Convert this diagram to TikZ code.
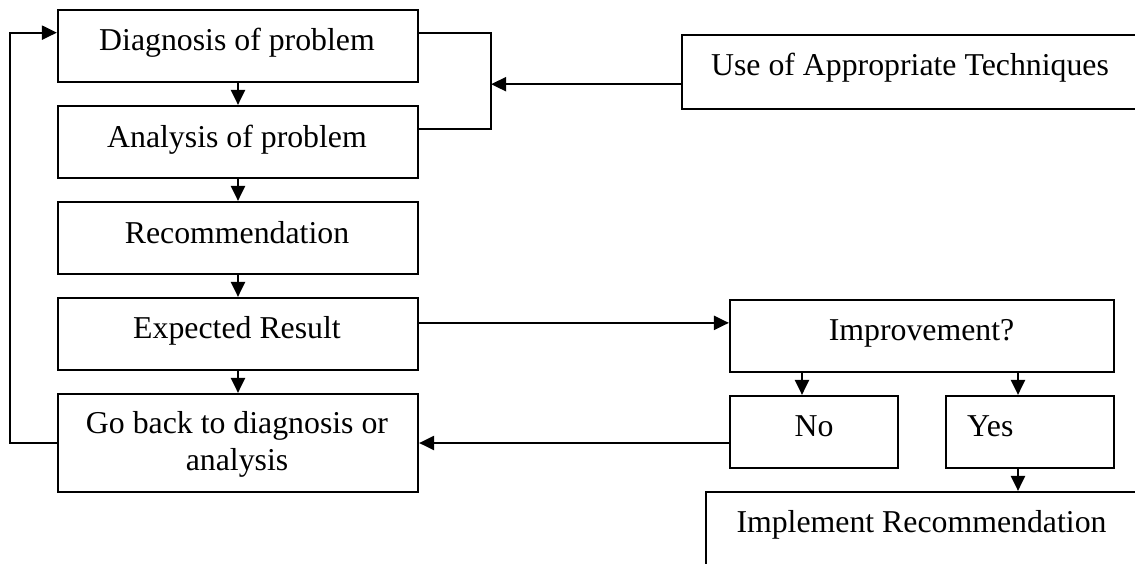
\documentclass[tikz,border=0pt]{standalone}
\usepackage{fontspec}
\setmainfont{Liberation Serif}
\usetikzlibrary{arrows.meta,calc}
\begin{document}
\begin{tikzpicture}[x=1pt,y=-1pt,
  box/.style={draw, line width=2.2pt, inner sep=0pt, minimum width=360pt, minimum height=72pt},
  lbl/.style={anchor=base, inner sep=0pt, font=\fontsize{31.8}{38}\selectfont},
  conn/.style={line width=2.2pt},
  arr/.style={conn, -{Triangle[length=15pt,width=14pt]}}]
\useasboundingbox (0,0) rectangle (1135,563);
% boxes
\node[box] (d) at (238,46) {};
\node[box] (a) at (238,142) {};
\node[box] (r) at (238,238) {};
\node[box] (e) at (238,334) {};
\node[box, minimum height=98pt] (g) at (238,443) {};
\node[box, minimum width=458pt, minimum height=74pt] (u) at (911,72) {};
\node[box, minimum width=384pt] (i) at (922,336) {};
\node[box, minimum width=168pt] (n) at (814,432) {};
\node[box, minimum width=168pt] (y) at (1030,432) {};
\node[box, minimum width=434pt, minimum height=88pt] (m) at (923,536) {};
% texts
\node[lbl] (td) at (237,50) {Diagnosis of problem};
\node[lbl] (ta) at (237,147) {Analysis of problem};
\node[lbl] (tr) at (237,243) {Recommendation};
\node[lbl] (te) at (237,338) {Expected Result};
\node[lbl] (tg1) at (237,433) {Go back to diagnosis or};
\node[lbl] (tg2) at (237,470) {analysis};
\node[lbl] (tu) at (910,75) {Use of Appropriate Techniques};
\node[lbl] (ti) at (921.5,340) {Improvement?};
\node[lbl] (tn) at (814,436) {No};
\node[lbl, anchor=base west] (ty) at (967,436) {Yes};
\node[lbl] (tm) at (921.5,532) {Implement Recommendation};
% helper coordinates
\coordinate (fbx) at (10,0);
\coordinate (dentry) at ($(d.north west)!0.32!(d.south west)$);
\coordinate (dout) at ($(d.north east)!0.32!(d.south east)$);
\coordinate (aout) at ($(a.north east)!0.32!(a.south east)$);
\coordinate (bx) at ($(d.east)+(72,0)$);
\coordinate (uout) at ($(u.north west)!0.66!(u.south west)$);
\coordinate (eout) at ($(e.north east)!0.35!(e.south east)$);
\coordinate (ni) at ($(n.north)+(-12,0)$);
\coordinate (yi) at ($(y.north)+(-12,0)$);
\coordinate (yo) at ($(y.south)+(-12,0)$);
% connectors
\draw[arr] (d.south) -- (a.north);
\draw[arr] (a.south) -- (r.north);
\draw[arr] (r.south) -- (e.north);
\draw[arr] (e.south) -- (g.north);
\draw[arr] (g.west) -- (g.west -| fbx) |- (dentry);
\draw[conn] (dout) -| (bx |- aout) -- (aout);
\draw[arr] (uout) -- (uout -| bx);
\draw[arr] (eout) -- (eout -| i.west);
\draw[arr] (ni |- i.south) -- (ni);
\draw[arr] (yi |- i.south) -- (yi);
\draw[arr] (yo) -- (yo |- m.north);
\draw[arr] (n.west |- g.east) -- (g.east);
\end{tikzpicture}
\end{document}
